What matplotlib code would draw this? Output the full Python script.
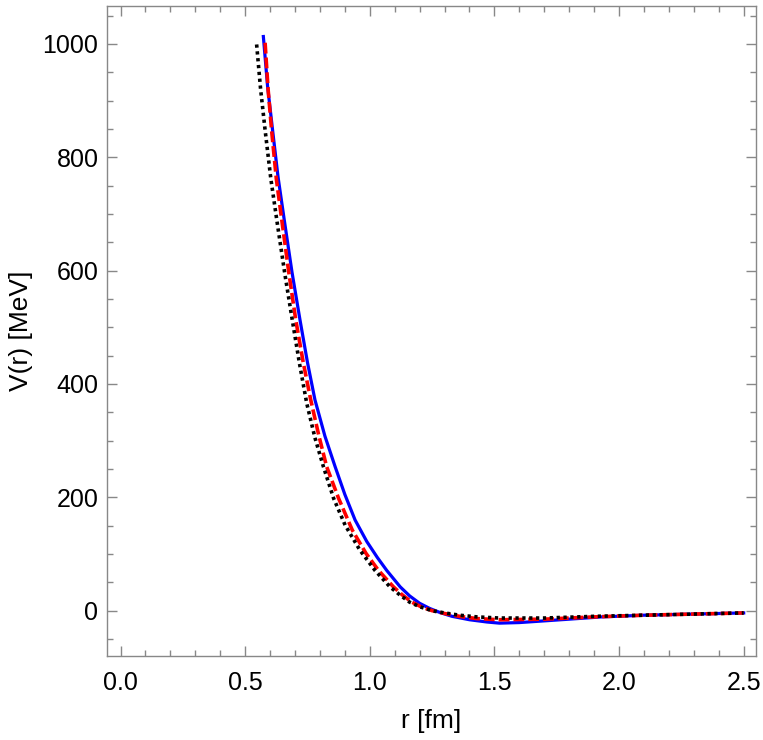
import matplotlib.pyplot as plt
from matplotlib.ticker import MultipleLocator

plt.rcParams['font.family'] = ['Liberation Sans', 'DejaVu Sans']

# solid blue curve
r_blue = [0.573, 0.590, 0.610, 0.632, 0.657, 0.688, 0.720, 0.750, 0.780, 0.820,
          0.861, 0.900, 0.941, 0.988, 1.030, 1.068, 1.122, 1.160, 1.200, 1.240,
          1.280, 1.330, 1.400, 1.470, 1.520, 1.600, 1.700, 1.800, 1.930, 2.100,
          2.300, 2.500]
v_blue = [1013, 925, 848, 765, 689, 597, 513, 438, 372, 308,
          254, 205, 160, 122, 94, 71, 42, 26, 13, 4,
          -3, -10, -16, -20, -22, -21, -18, -15, -11, -8,
          -6, -4]

# dashed red curve
r_red = [0.580, 0.592, 0.606, 0.625, 0.647, 0.675, 0.703, 0.733, 0.763, 0.795,
         0.827, 0.875, 0.930, 0.985, 1.035, 1.095, 1.130, 1.169, 1.210, 1.250,
         1.300, 1.360, 1.430, 1.520, 1.700, 1.900, 2.100, 2.300, 2.500]
v_red = [1002, 920, 848, 762, 689, 597, 513, 438, 372, 310,
         254, 198, 142, 101, 71, 42, 28, 15, 6, 0,
         -5, -10, -14, -16, -15, -11, -8, -6, -4]

# dotted black curve
r_black = [0.546, 0.562, 0.580, 0.603, 0.630, 0.660, 0.689, 0.718, 0.747, 0.780,
           0.814, 0.855, 0.901, 0.960, 1.021, 1.081, 1.120, 1.160, 1.200, 1.250,
           1.300, 1.360, 1.430, 1.520, 1.700, 1.900, 2.100, 2.300, 2.500]
v_black = [999, 920, 848, 762, 680, 592, 513, 436, 366, 305,
           254, 198, 151, 107, 71, 42, 28, 15, 7, 0,
           -4, -8, -11, -13, -13, -10, -8, -6, -4]

fig = plt.figure(figsize=(7.63, 7.40), dpi=100)
ax = fig.add_axes([0.140, 0.1135, 0.851, 0.8785])

ax.plot(r_blue, v_blue, color='#0000ff', lw=2.3, solid_joinstyle='round')
ax.plot(r_red, v_red, color='#ff0000', lw=2.6, dashes=(3.0, 1.1))
ax.plot(r_black, v_black, color='black', lw=2.6, dashes=(0.9, 1.0))

ax.set_xlim(-0.055, 2.55)
ax.set_ylim(-80, 1067)

ax.xaxis.set_major_locator(MultipleLocator(0.5))
ax.xaxis.set_minor_locator(MultipleLocator(0.1))
ax.yaxis.set_major_locator(MultipleLocator(200))
ax.yaxis.set_minor_locator(MultipleLocator(50))
ax.xaxis.set_major_formatter(lambda v, p: f'{v:.1f}')

frame_col = '#888888'
for s in ax.spines.values():
    s.set_color(frame_col)
    s.set_linewidth(1.0)
ax.tick_params(which='both', direction='in', top=True, right=True,
               color=frame_col, labelsize=18, width=1.0)
ax.tick_params(which='major', length=7)
ax.tick_params(which='minor', length=4)
ax.tick_params(axis='x', which='major', pad=11)
ax.tick_params(axis='y', which='major', pad=6)

ax.set_xlabel('r [fm]', fontsize=19, labelpad=10)
ax.set_ylabel('V(r) [MeV]', fontsize=19, labelpad=7)

fig.savefig('out.png', dpi=100)
